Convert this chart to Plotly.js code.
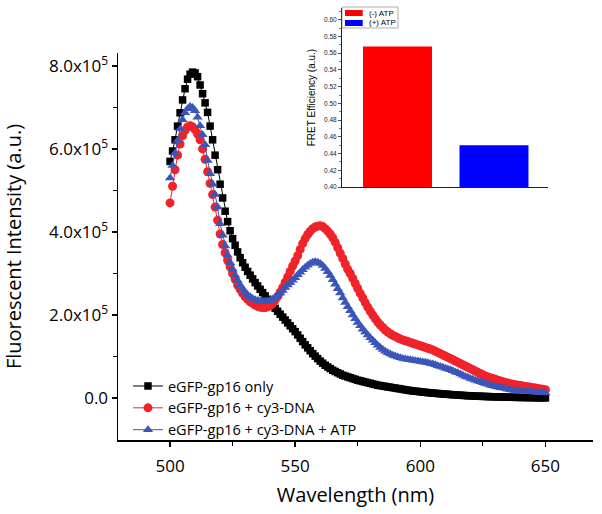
<!DOCTYPE html>
<html>
<head>
<meta charset="utf-8">
<script src="https://cdn.plot.ly/plotly-3.0.1.min.js"></script>
<style>html,body{margin:0;padding:0;background:#fff;}#chart{width:602px;height:514px;}</style>
</head>
<body>
<div id="chart"></div>
<script>
// Wavelength grid (nm), 1 nm steps
var wlStart = 500, wlEnd = 650;
var wavelength = [];
for (var w = wlStart; w <= wlEnd; w++) wavelength.push(w);

// Fluorescent intensity in units of 1e5 a.u.
var seriesNames = ["eGFP-gp16 only", "eGFP-gp16 + cy3-DNA", "eGFP-gp16 + cy3-DNA + ATP"];

var gp16Only = [
 5.70,5.95,6.22,6.55,6.87,7.18,7.45,7.68,7.80,7.85,
 7.83,7.74,7.54,7.33,7.11,6.88,6.55,6.22,5.85,5.50,
 5.15,4.82,4.50,4.25,4.03,3.84,3.68,3.52,3.38,3.26,
 3.15,3.05,2.96,2.87,2.78,2.70,2.62,2.54,2.46,2.38,
 2.30,2.23,2.16,2.09,2.02,1.95,1.88,1.81,1.74,1.67,
 1.60,1.52,1.44,1.36,1.28,1.21,1.14,1.07,1.01,0.95,
 0.89,0.84,0.79,0.75,0.71,0.67,0.64,0.61,0.58,0.55,
 0.53,0.51,0.49,0.47,0.45,0.43,0.415,0.40,0.385,0.37,
 0.355,0.34,0.325,0.31,0.30,0.29,0.28,0.27,0.26,0.25,
 0.24,0.23,0.22,0.21,0.20,0.19,0.18,0.17,0.165,0.16,
 0.15,0.145,0.14,0.13,0.125,0.12,0.115,0.11,0.105,0.10,
 0.095,0.09,0.085,0.08,0.076,0.072,0.068,0.064,0.06,0.057,
 0.054,0.051,0.048,0.045,0.042,0.04,0.038,0.036,0.034,0.032,
 0.03,0.028,0.026,0.024,0.022,0.02,0.019,0.018,0.017,0.016,
 0.015,0.014,0.013,0.012,0.011,0.01,0.009,0.008,0.007,0.006,0.005
];

var gp16Cy3 = [
 4.70,5.10,5.50,5.85,6.12,6.32,6.45,6.53,6.56,6.53,
 6.46,6.36,6.22,6.00,5.75,5.45,5.17,4.90,4.60,4.28,
 3.95,3.70,3.50,3.32,3.16,3.00,2.86,2.72,2.62,2.52,
 2.44,2.38,2.32,2.28,2.24,2.21,2.19,2.18,2.18,2.20,
 2.23,2.28,2.36,2.45,2.55,2.66,2.79,2.92,3.05,3.18,
 3.30,3.43,3.58,3.72,3.84,3.94,4.02,4.08,4.12,4.14,
 4.15,4.13,4.08,4.02,3.95,3.86,3.75,3.62,3.49,3.36,
 3.23,3.10,3.00,2.88,2.76,2.64,2.52,2.41,2.30,2.19,
 2.09,2.00,1.91,1.83,1.76,1.70,1.64,1.59,1.55,1.51,
 1.48,1.45,1.42,1.40,1.38,1.36,1.34,1.32,1.30,1.28,
 1.26,1.24,1.22,1.20,1.18,1.16,1.13,1.10,1.07,1.04,
 1.01,0.98,0.95,0.92,0.89,0.86,0.83,0.80,0.77,0.74,
 0.71,0.68,0.65,0.62,0.59,0.56,0.53,0.51,0.49,0.47,
 0.45,0.43,0.41,0.39,0.375,0.36,0.345,0.33,0.32,0.31,
 0.30,0.29,0.28,0.27,0.26,0.25,0.24,0.23,0.22,0.21,0.20
];

var gp16Cy3Atp = [
 5.30,5.60,5.90,6.20,6.48,6.70,6.87,6.97,7.02,7.00,
 6.92,6.76,6.56,6.34,6.10,5.72,5.40,5.15,4.90,4.60,
 4.20,3.92,3.66,3.44,3.26,3.10,2.96,2.83,2.72,2.63,
 2.55,2.49,2.44,2.40,2.37,2.35,2.34,2.33,2.33,2.34,
 2.35,2.38,2.42,2.47,2.53,2.59,2.66,2.72,2.78,2.84,
 2.90,2.97,3.03,3.09,3.15,3.20,3.24,3.27,3.28,3.27,
 3.24,3.19,3.12,3.04,2.95,2.85,2.74,2.63,2.53,2.41,
 2.30,2.20,2.10,2.00,1.91,1.82,1.74,1.66,1.59,1.52,
 1.45,1.39,1.33,1.27,1.22,1.17,1.13,1.09,1.06,1.03,
 1.01,0.99,0.97,0.95,0.94,0.93,0.92,0.91,0.90,0.89,
 0.88,0.87,0.86,0.85,0.83,0.82,0.80,0.78,0.76,0.74,
 0.72,0.70,0.68,0.66,0.63,0.61,0.58,0.55,0.52,0.50,
 0.47,0.45,0.43,0.41,0.39,0.37,0.35,0.33,0.31,0.295,
 0.28,0.265,0.25,0.24,0.23,0.21,0.20,0.19,0.185,0.18,
 0.17,0.165,0.16,0.155,0.15,0.145,0.14,0.135,0.13,0.125,0.12
];

var yTickVals = [0, 2, 4, 6, 8];
var yTickText = ["0.0", "2.0x10<sup>5</sup>", "4.0x10<sup>5</sup>", "6.0x10<sup>5</sup>", "8.0x10<sup>5</sup>"];
var xTickVals = [500, 550, 600, 650];

// Inset: FRET efficiency
var fretLabels = ["(-) ATP", "(+) ATP"];
var fretValues = [0.568, 0.450];
var fretColors = ["#ff0000", "#0000ff"];

var mainFont = "Open Sans, sans-serif";
var insetFont = "Liberation Sans, Arial, sans-serif";

var traces = [
  {x: wavelength, y: gp16Only, name: seriesNames[0], type: "scatter", mode: "lines+markers",
   line: {color: "#000000", width: 1}, marker: {symbol: "square", size: 7.5, color: "#000000"}},
  {x: wavelength, y: gp16Cy3, name: seriesNames[1], type: "scatter", mode: "lines+markers",
   line: {color: "#f0232a", width: 1}, marker: {symbol: "circle", size: 9, color: "#f0232a"}},
  {x: wavelength, y: gp16Cy3Atp, name: seriesNames[2], type: "scatter", mode: "lines+markers",
   line: {color: "#3b56b8", width: 1}, marker: {symbol: "triangle-up", size: 9, color: "#3b56b8"}},
  {x: fretLabels, y: fretValues, type: "bar", xaxis: "x2", yaxis: "y2", showlegend: false,
   width: 0.715, marker: {color: fretColors, line: {width: 0}}}
];

// inset legend (swatches + labels), placed in paper coordinates
var annotations = [
  {xref: "paper", yref: "paper", x: 0.5242, y: 0.9884, xanchor: "left", yanchor: "middle", showarrow: false,
   text: fretLabels[0], font: {family: insetFont, size: 8, color: "#000"}},
  {xref: "paper", yref: "paper", x: 0.5242, y: 0.9653, xanchor: "left", yanchor: "middle", showarrow: false,
   text: fretLabels[1], font: {family: insetFont, size: 8, color: "#000"}}
];
var shapes = [
  {type: "rect", xref: "paper", yref: "paper", x0: 0.4716, x1: 0.5895, y0: 0.9537, y1: 1.0023,
   line: {color: "#777", width: 0.6}, fillcolor: "rgba(255,255,255,0)"},
  {type: "rect", xref: "paper", yref: "paper", x0: 0.4779, x1: 0.5152, y0: 0.9815, y1: 0.9954,
   line: {width: 0}, fillcolor: fretColors[0]},
  {type: "rect", xref: "paper", yref: "paper", x0: 0.4779, x1: 0.5152, y0: 0.9583, y1: 0.9722,
   line: {width: 0}, fillcolor: fretColors[1]}
];

var layout = {
  width: 602, height: 514,
  margin: {l: 118, r: 9, t: 8, b: 74},
  paper_bgcolor: "#fff", plot_bgcolor: "rgba(0,0,0,0)",
  font: {family: mainFont, color: "#000"},
  showlegend: true,
  legend: {x: 0.021, y: -0.014, xanchor: "left", yanchor: "bottom", bgcolor: "rgba(255,255,255,0)",
           font: {family: mainFont, size: 14.5, color: "#000"}, tracegroupgap: 0},
  xaxis: {
    domain: [0, 1], range: [479.2, 669], tickmode: "array", tickvals: xTickVals,
    showline: true, linecolor: "#000", linewidth: 1.5, ticks: "outside", ticklen: 5, tickwidth: 1.5, tickcolor: "#000",
    ticklabelstandoff: 5,
    minor: {dtick: 25, tick0: 500, ticks: "outside", ticklen: 4, tickwidth: 1.2, tickcolor: "#000"},
    showgrid: false, zeroline: false, mirror: false,
    tickfont: {family: mainFont, size: 17, color: "#000"},
    title: {text: "Wavelength (nm)", font: {family: mainFont, size: 20, color: "#000"}, standoff: 12}
  },
  yaxis: {
    domain: [0, 0.8958], range: [-1.01, 8.31], tickmode: "array", tickvals: yTickVals, ticktext: yTickText,
    showline: true, linecolor: "#000", linewidth: 1.5, ticks: "outside", ticklen: 5, tickwidth: 1.5, tickcolor: "#000",
    minor: {tickmode: "array", tickvals: [1, 3, 5, 7], ticks: "outside", ticklen: 4, tickwidth: 1.2, tickcolor: "#000"},
    showgrid: false, zeroline: false, mirror: false,
    tickfont: {family: mainFont, size: 17, color: "#000"},
    title: {text: "Fluorescent Intensity (a.u.)\u00a0\u00a0\u00a0\u00a0\u00a0\u00a0", font: {family: mainFont, size: 20, color: "#000"}, standoff: 24}
  },
  xaxis2: {
    domain: [0.4716, 0.9053], anchor: "y2", range: [-0.575, 1.56], type: "category",
    showline: true, linecolor: "#222", linewidth: 1, ticks: "", showticklabels: false,
    showgrid: false, zeroline: false
  },
  yaxis2: {
    domain: [0.5856, 1.0], anchor: "x2", range: [0.40, 0.614], tick0: 0.40, dtick: 0.02, tickformat: ".2f",
    showline: true, linecolor: "#222", linewidth: 1, ticks: "outside", ticklen: 3, tickwidth: 0.8, tickcolor: "#222",
    minor: {dtick: 0.01, ticks: "outside", ticklen: 2, tickwidth: 0.6, tickcolor: "#222"},
    showgrid: false, zeroline: false,
    tickfont: {family: insetFont, size: 6.5, color: "#222"},
    title: {text: "FRET Efficiency (a.u.)", font: {family: insetFont, size: 10, color: "#000"}, standoff: 6}
  },
  annotations: annotations,
  shapes: shapes
};

Plotly.newPlot("chart", traces, layout, {displayModeBar: false, staticPlot: true});
</script>
</body>
</html>
